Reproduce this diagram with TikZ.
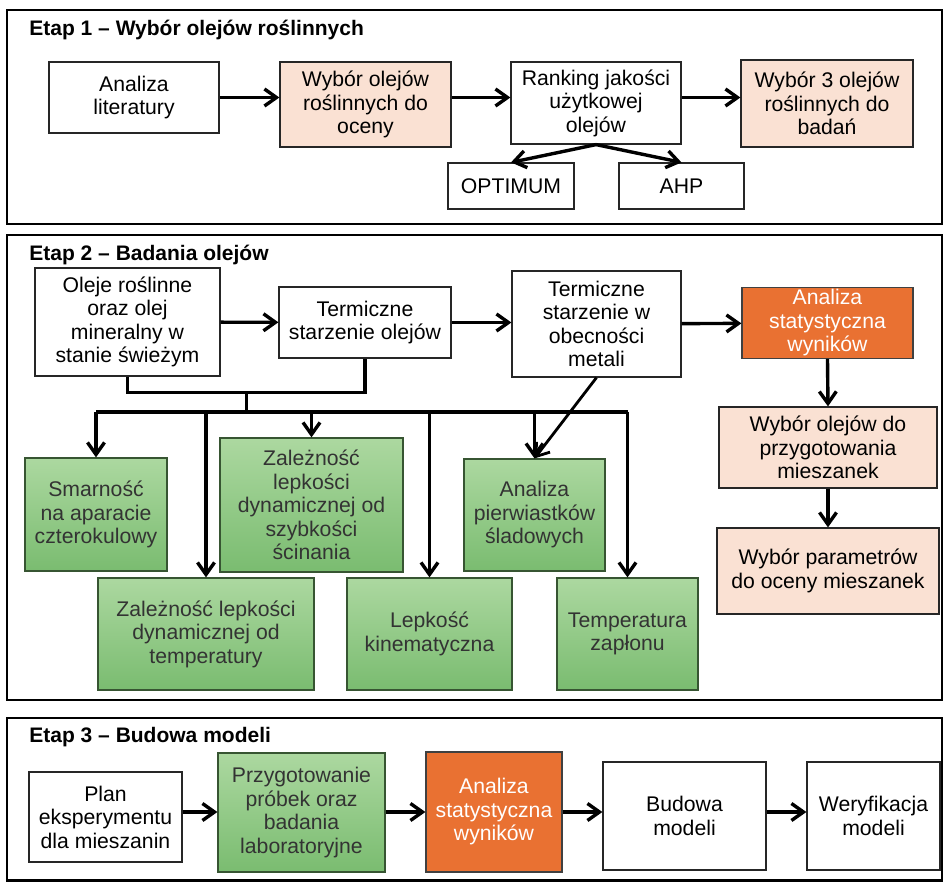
\documentclass[tikz,border=0pt]{standalone}
\usepackage{fontspec}
\setmainfont{Liberation Sans}
\usetikzlibrary{arrows.meta}

\definecolor{peach}{RGB}{250,225,211}
\definecolor{leaf}{RGB}{172,216,160}
\definecolor{leafdark}{RGB}{122,188,112}
\definecolor{rust}{RGB}{233,113,50}

\tikzset{
	box/.style={draw=black!85,line width=0.6pt,align=center,inner sep=1pt,font=\fontsize{10.6}{11.75}\selectfont},
	wh/.style 2 args={minimum width=#1*0.5pt,minimum height=#2*0.5pt},
	pink/.style={box,fill=peach},
	lab/.style={box,draw=black!55!leafdark,top color=leaf,bottom color=leafdark,text=black!80},
	hot/.style={box,fill=rust,draw=black!75,text=white},
	arr/.style={-{Straight Barb[length=6pt,width=8.5pt]},line width=1.7pt},
	wire/.style={line width=1.7pt},
	panel/.style={draw,line width=1.1pt},
	title/.style={anchor=west,inner sep=0pt,font=\fontsize{10.5}{12}\selectfont\bfseries}
}

\begin{document}
\begin{tikzpicture}[x=0.5pt,y=-0.5pt]

\useasboundingbox (0,0) rectangle (944,882);

% Etap 1
\draw[panel] (7,10) rectangle (942,224);
\node[title] (t1) at (29,30) {Etap 1 – Wybór olejów roślinnych};

\node[box,wh={170}{71}] (lit) at (134,97.5) {Analiza\\literatury};
\node[pink,wh={171}{85}] (sel) at (365.5,104.5) {Wybór olejów\\roślinnych do\\oceny};
\node[box,wh={170}{82}] (rank) at (596,103) {Ranking jakości\\użytkowej\\olejów};
\node[pink,wh={172}{87}] (sel3) at (827,103.5) {Wybór 3 olejów\\roślinnych do\\badań};
\node[box,wh={126}{46}] (opt) at (511,186) {OPTIMUM};
\node[box,wh={125}{46}] (ahp) at (681.5,186) {AHP};

\draw[arr] (lit.east) -- (lit.east -| sel.west);
\draw[arr] (sel.east |- lit.east) -- (rank.west |- lit.east);
\draw[arr] (rank.east |- lit.east) -- (sel3.west |- lit.east);
\draw[arr] (rank.south) -- (opt.north);
\draw[arr] (rank.south) -- (ahp.north);

% Etap 2
\draw[panel] (7,235) rectangle (942,700);
\node[title] (t2) at (29,255) {Etap 2 – Badania olejów};

\node[box,wh={185}{108}] (fresh) at (127.5,322) {Oleje roślinne\\oraz olej\\mineralny w\\stanie świeżym};
\node[box,wh={172}{71}] (aged) at (365,322.5) {Termiczne\\starzenie olejów};
\node[box,wh={169}{106}] (metal) at (596.5,324) {Termiczne\\starzenie w\\obecności\\metali};
\node[hot,wh={171}{70}] (stat) at (827.5,323) {Analiza\\statystyczna\\wyników};
\node[pink,wh={218}{81}] (mixsel) at (828,447.5) {Wybór olejów do\\przygotowania\\mieszanek};
\node[pink,wh={222}{86}] (param) at (828,571) {Wybór parametrów\\do oceny mieszanek};

\node[lab,wh={142}{113}] (smar) at (96,514.5) {Smarność\\na aparacie\\czterokulowy};
\node[lab,wh={183}{134}] (shear) at (311.5,505) {Zależność\\lepkości\\dynamicznej od\\szybkości\\ścinania};
\node[lab,wh={141}{112}] (trace) at (534.5,515) {Analiza\\pierwiastków\\śladowych};
\node[lab,wh={216}{112}] (temp) at (206,634) {Zależność lepkości\\dynamicznej od\\temperatury};
\node[lab,wh={165}{112}] (kin) at (429.5,634) {Lepkość\\kinematyczna};
\node[lab,wh={141}{112}] (flash) at (627.5,634) {Temperatura\\zapłonu};

\draw[arr] (fresh) -- (aged);
\draw[arr] (aged.east) -- (aged.east -| metal.west);
\draw[arr] (metal) -- (stat);
\draw[arr] (stat.south) -- (mixsel.north);
\draw[arr] (mixsel.south) -- (param.north);

% wspolna szyna
\draw[wire] (fresh.south) -- ++(0,16) -| (aged.south);
\coordinate (jn) at (246.25,392);
\coordinate (bus) at (246.25,412);
\draw[wire] (jn) -- (bus);
\draw[wire] (smar.north |- bus) -- (flash.north |- bus);
\foreach \n in {smar,temp,shear,kin,trace,flash} {
	\draw[arr] (\n.north |- bus) -- (\n.north);
}
\draw[arr,line width=1.4pt] (metal.south) -- (trace.north);

% Etap 3
\draw[panel] (7,718) rectangle (942,880.5);
\node[title] (t3) at (29,737) {Etap 3 – Budowa modeli};

\node[box,wh={153}{90}] (plan) at (105.5,817) {Plan\\eksperymentu\\dla mieszanin};
\node[lab,wh={167}{119}] (prep) at (301.5,812.5) {Przygotowanie\\próbek oraz\\badania\\laboratoryjne};
\node[hot,wh={136}{120}] (stat3) at (494,812) {Analiza\\statystyczna\\wyników};
\node[box,wh={163}{108}] (build) at (684.5,816) {Budowa\\modeli};
\node[box,wh={133}{108}] (verif) at (873.5,816) {Weryfikacja\\modeli};

\foreach \a/\b in {plan/prep,prep/stat3,stat3/build,build/verif} {
	\draw[arr] (\a.east |- stat3) -- (\b.west |- stat3);
}

\end{tikzpicture}
\end{document}
